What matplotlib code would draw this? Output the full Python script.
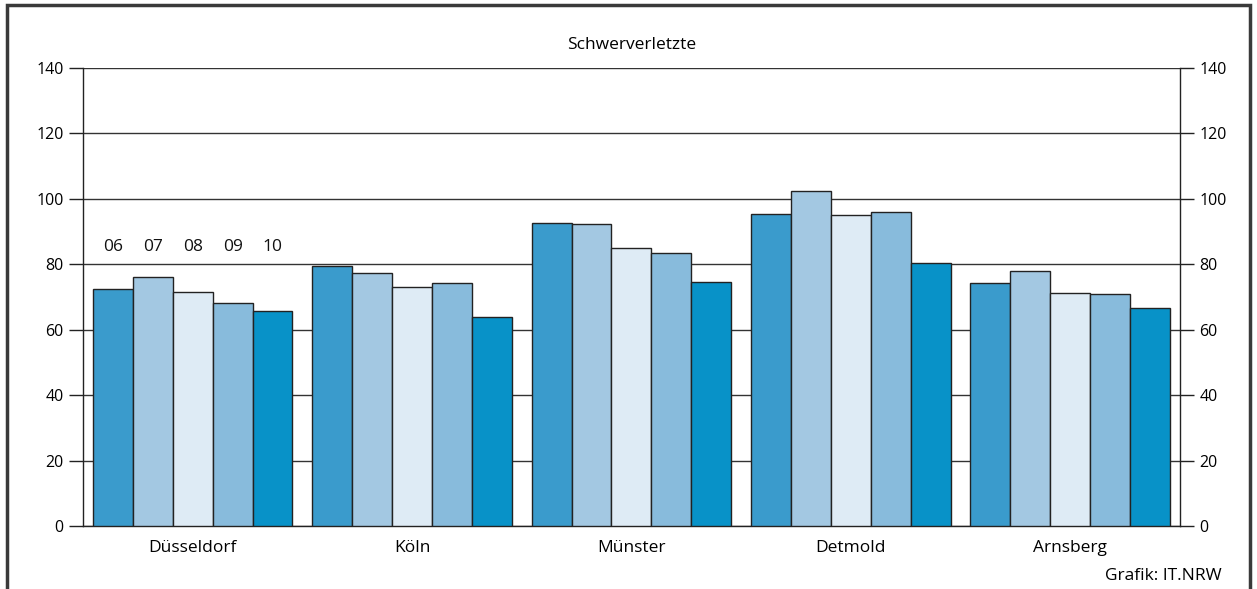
import numpy as np
import matplotlib.pyplot as plt
from matplotlib.patches import Rectangle

plt.rcParams['font.family'] = ['Open Sans', 'DejaVu Sans']

regions = ['Düsseldorf', 'Köln', 'Münster', 'Detmold', 'Arnsberg']
years = ['06', '07', '08', '09', '10']
values = {
    '06': [72.4, 79.5, 92.6, 95.4, 74.3],
    '07': [76.1, 77.3, 92.4, 102.4, 78.0],
    '08': [71.5, 73.1, 85.0, 95.1, 71.2],
    '09': [68.2, 74.3, 83.5, 96.0, 70.9],
    '10': [65.7, 63.9, 74.6, 80.4, 66.6],
}
colors = ['#3a9bcc', '#a3c8e2', '#deebf5', '#88bbdc', '#0892c8']
yticks = [0, 20, 40, 60, 80, 100, 120, 140]

fig = plt.figure(figsize=(12.57, 5.89), dpi=100)
ax = fig.add_axes([0.066, 0.107, 0.8727, 0.7776])

x = np.arange(len(regions))
w = 0.182
for i, yr in enumerate(years):
    ax.bar(x + (i - 2) * w, values[yr], width=w, color=colors[i],
           edgecolor='#222222', linewidth=1.0, zorder=3)
    # year label above the first group
    ax.text(x[0] + (i - 2) * w, 85.4, yr, ha='center', va='center',
            fontsize=12.5, color='#111111', zorder=4)

ax.set_xlim(-0.5, 4.5)
ax.set_ylim(0, 140)
ax.set_yticks(yticks)
ax.set_xticks(x)
ax.set_xticklabels(regions, fontsize=12.5)
ax.yaxis.grid(True, color='#333333', linewidth=1.0, zorder=0)
ax.set_axisbelow(True)

for s in ['left', 'right', 'bottom']:
    ax.spines[s].set_color('#222222')
    ax.spines[s].set_linewidth(1.0)
ax.spines['top'].set_visible(False)

ax.tick_params(axis='y', which='both', left=True, right=True, labelleft=True,
               labelright=True, length=10, width=1.0, color='#222222',
               labelsize=11.5, pad=4)
ax.tick_params(axis='x', length=0, pad=10)

ax.set_title('Schwerverletzte', fontsize=12.5, pad=14)

fig.text(0.972, 0.008, 'Grafik: IT.NRW', ha='right', va='bottom', fontsize=12.5)

# outer frame (open at the bottom)
fig.patches.append(Rectangle((7 / 1257, -0.1), (1250 - 7) / 1257, 1.1 - 5 / 589,
                             transform=fig.transFigure, fill=False,
                             edgecolor='#3a3a3a', linewidth=2.5, clip_on=False))

fig.savefig('out.png', dpi=100)
